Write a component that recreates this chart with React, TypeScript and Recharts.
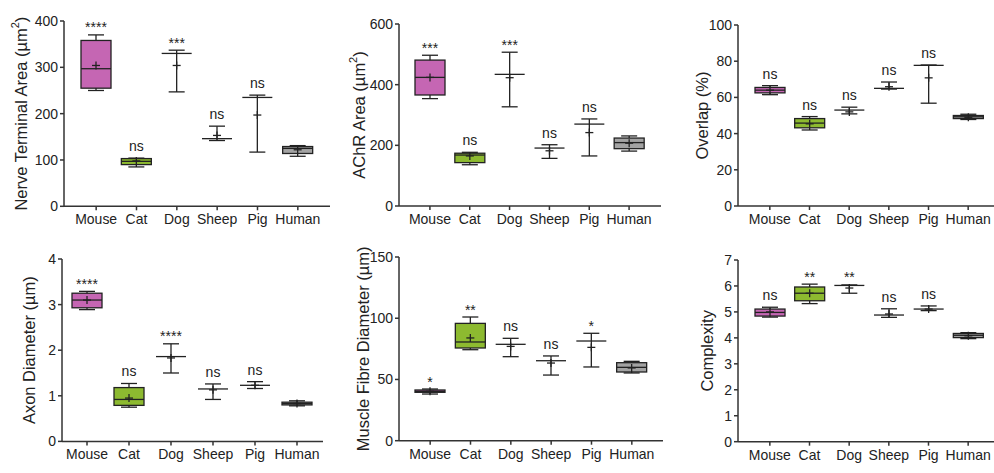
import React from "react";
import { Bar, ComposedChart, XAxis, YAxis } from "recharts";

// species on every panel
const species = ["Mouse", "Cat", "Dog", "Sheep", "Pig", "Human"];

// per species: [min, q1, median, q3, max, mean]
const nerveTerminalArea = [
  [250, 255, 297, 358, 370, 304],
  [85, 90, 97, 103, 104, 98],
  [247, 330, 330, 330, 337, 304],
  [142, 146, 146, 146, 173, 153],
  [117, 235, 235, 235, 240, 197],
  [108, 114, 125, 129, 131, 122],
];
const nerveTerminalSig = ["****", "ns", "***", "ns", "ns", ""];

const achrArea = [
  [354, 366, 424, 481, 497, 424],
  [136, 143, 168, 174, 177, 165],
  [327, 434, 434, 434, 507, 423],
  [157, 191, 191, 191, 202, 182],
  [165, 270, 270, 270, 287, 242],
  [181, 189, 209, 224, 231, 207],
];
const achrSig = ["***", "ns", "***", "ns", "ns", ""];

const overlap = [
  [61.5, 62.5, 64, 65.5, 66.5, 64],
  [42, 43.2, 45.8, 48.3, 49.4, 45.4],
  [50.9, 53, 53, 53, 54.6, 52],
  [64.6, 65, 65, 65, 68.5, 65.9],
  [56.8, 77.7, 77.7, 77.7, 77.9, 70.8],
  [47.8, 48.3, 49.3, 50, 50.7, 49],
];
const overlapSig = ["ns", "ns", "ns", "ns", "ns", ""];

const axonDiameter = [
  [2.89, 2.93, 3.1, 3.25, 3.29, 3.1],
  [0.75, 0.79, 0.92, 1.18, 1.27, 0.95],
  [1.5, 1.86, 1.86, 1.86, 2.14, 1.83],
  [0.92, 1.15, 1.15, 1.15, 1.26, 1.13],
  [1.16, 1.23, 1.23, 1.23, 1.31, 1.23],
  [0.78, 0.8, 0.83, 0.86, 0.89, 0.83],
];
const axonSig = ["****", "ns", "****", "ns", "ns", ""];

const muscleFibreDiameter = [
  [38.1, 39.5, 40.3, 41.4, 42.2, 40.3],
  [74.3, 75.7, 80.6, 95.8, 101, 83.9],
  [68.6, 78.7, 78.7, 78.7, 83.6, 77],
  [53.6, 65.3, 65.3, 65.3, 69.2, 63.4],
  [60.2, 81.4, 81.4, 81.4, 87.7, 76.2],
  [55.3, 56.1, 59.9, 63.7, 64.8, 59.4],
];
const muscleSig = ["*", "**", "ns", "ns", "*", ""];

const complexity = [
  [4.8, 4.84, 4.98, 5.11, 5.18, 5.0],
  [5.32, 5.43, 5.72, 5.96, 6.07, 5.72],
  [5.72, 6.02, 6.02, 6.02, 6.04, 5.92],
  [4.79, 4.88, 4.88, 4.88, 5.12, 4.92],
  [5.05, 5.11, 5.11, 5.11, 5.23, 5.11],
  [3.97, 4.01, 4.1, 4.17, 4.2, 4.08],
];
const complexitySig = ["ns", "**", "**", "ns", "ns", ""];

const boxFill: Record<string, string> = {
  Mouse: "#c566b3",
  Cat: "#8dba30",
  Human: "#a3a3a3",
};

const INK = "#222";
const FONT = '"Liberation Sans", Arial, sans-serif';

type Row = {
  name: string;
  min: number;
  q1: number;
  median: number;
  q3: number;
  max: number;
  mean: number;
  sig: string;
};

const toRows = (stats: number[][], sig: string[]): Row[] =>
  species.map((name, i) => ({
    name,
    min: stats[i][0],
    q1: stats[i][1],
    median: stats[i][2],
    q3: stats[i][3],
    max: stats[i][4],
    mean: stats[i][5],
    sig: sig[i],
  }));

const BoxShape = (props: any) => {
  const { x, y, width, height, payload } = props;
  if (typeof x !== "number" || typeof y !== "number" || !payload) return null;
  const d = payload as Row;
  const top = Math.min(y, y + height);
  const bottom = Math.max(y, y + height);
  // the bar spans min..max through the y scale; place the rest linearly inside it
  const py = (v: number) =>
    bottom - ((v - d.min) / (d.max - d.min)) * (bottom - top);
  const cx = x + width / 2;
  const half = width / 2;
  const cap = 8;
  const fill = boxFill[d.name] ?? "none";
  const isStars = d.sig.startsWith("*");
  return (
    <g>
      <line x1={cx} x2={cx} y1={top} y2={bottom} stroke={INK} strokeWidth={1.3} />
      <line x1={cx - cap} x2={cx + cap} y1={top} y2={top} stroke={INK} strokeWidth={1.3} />
      <line x1={cx - cap} x2={cx + cap} y1={bottom} y2={bottom} stroke={INK} strokeWidth={1.3} />
      <rect
        x={cx - half}
        y={py(d.q3)}
        width={width}
        height={Math.max(0, py(d.q1) - py(d.q3))}
        fill={fill}
        stroke={INK}
        strokeWidth={1.3}
      />
      <line x1={cx - half} x2={cx + half} y1={py(d.median)} y2={py(d.median)} stroke={INK} strokeWidth={1.3} />
      <line x1={cx - 4} x2={cx + 4} y1={py(d.mean)} y2={py(d.mean)} stroke={INK} strokeWidth={1.3} />
      <line x1={cx} x2={cx} y1={py(d.mean) - 4} y2={py(d.mean) + 4} stroke={INK} strokeWidth={1.3} />
      {d.sig && (
        <text
          x={cx}
          y={top - (isStars ? 2.5 : 7)}
          textAnchor="middle"
          fontSize={14}
          fill={INK}
          fontFamily={FONT}
        >
          {d.sig}
        </text>
      )}
    </g>
  );
};

// axis title, with an optional real superscript after the main text
const YTitle = ({ viewBox, text, sup, tail, cx }: any) => {
  if (!viewBox) return null;
  const cy = viewBox.y + viewBox.height / 2;
  return (
    <text
      x={cx}
      y={cy}
      transform={`rotate(-90 ${cx} ${cy})`}
      textAnchor="middle"
      dominantBaseline="central"
      fontSize={16.5}
      fill={INK}
      fontFamily={FONT}
    >
      {text}
      {sup && (
        <tspan fontSize={11} dy={-6}>
          {sup}
        </tspan>
      )}
      {tail && <tspan dy={sup ? 6 : 0}>{tail}</tspan>}
    </text>
  );
};

type PanelProps = {
  rows: Row[];
  title: string;
  sup?: string;
  tail?: string;
  left: number;
  top: number;
  right: number;
  bottom: number;
  titleX: number;
  ticks: number[];
  padLeft: number;
  padRight: number;
};

const AXIS_W = 60;
const XAXIS_H = 40;
const MARGIN_TOP = 12;

const Panel = ({ rows, title, sup, tail, left, top, right, bottom, titleX, ticks, padLeft, padRight }: PanelProps) => {
  const chartLeft = left - AXIS_W;
  const chartTop = top - MARGIN_TOP;
  const width = right - left + AXIS_W + 4;
  const height = bottom - top + MARGIN_TOP + XAXIS_H;
  const axisStyle = { stroke: "#333", strokeWidth: 1.5 };
  return (
    <div style={{ position: "absolute", left: chartLeft, top: chartTop }}>
      <ComposedChart
        width={width}
        height={height}
        data={rows}
        margin={{ top: MARGIN_TOP, right: 4, bottom: 0, left: 0 }}
      >
        <XAxis
          dataKey="name"
          height={XAXIS_H}
          padding={{ left: padLeft, right: padRight }}
          axisLine={axisStyle}
          tickLine={axisStyle}
          tickSize={4}
          tickMargin={4}
          tick={{ fill: INK, fontSize: 14, fontFamily: FONT }}
          interval={0}
        />
        <YAxis
          width={AXIS_W}
          type="number"
          domain={[ticks[0], ticks[ticks.length - 1]]}
          ticks={ticks}
          axisLine={axisStyle}
          tickLine={axisStyle}
          tickSize={4}
          tickMargin={2}
          tick={{ fill: INK, fontSize: 14, fontFamily: FONT }}
          label={<YTitle text={title} sup={sup} tail={tail} cx={titleX - chartLeft} />}
        />
        <Bar
          dataKey={(d: Row) => [d.min, d.max]}
          barSize={30}
          shape={BoxShape}
          activeBar={false}
          isAnimationActive={false}
        />
      </ComposedChart>
    </div>
  );
};

export default function App() {
  return (
    <div
      style={{
        position: "fixed",
        left: 0,
        top: 0,
        width: 994,
        height: 473,
        overflow: "hidden",
        background: "#fff",
        fontFamily: FONT,
      }}
    >
      <Panel
        rows={toRows(nerveTerminalArea, nerveTerminalSig)}
        title="Nerve Terminal Area (µm" sup="2" tail=")"
        left={64} top={20.7} right={330} bottom={206} titleX={21}
        ticks={[0, 100, 200, 300, 400]} padLeft={12} padRight={12}
      />
      <Panel
        rows={toRows(achrArea, achrSig)}
        title="AChR Area (µm" sup="2" tail=")"
        left={399} top={24} right={661} bottom={206} titleX={359}
        ticks={[0, 200, 400, 600]} padLeft={11} padRight={12}
      />
      <Panel
        rows={toRows(overlap, overlapSig)}
        title="Overlap (%)"
        left={738} top={25} right={1000} bottom={206} titleX={702}
        ticks={[0, 20, 40, 60, 80, 100]} padLeft={12} padRight={12}
      />
      <Panel
        rows={toRows(axonDiameter, axonSig)}
        title="Axon Diameter (µm)"
        left={62} top={259.3} right={323} bottom={441.7} titleX={29}
        ticks={[0, 1, 2, 3, 4]} padLeft={4} padRight={5}
      />
      <Panel
        rows={toRows(muscleFibreDiameter, muscleSig)}
        title="Muscle Fibre Diameter (µm)"
        left={399} top={257.3} right={663} bottom={441} titleX={363}
        ticks={[0, 50, 100, 150]} padLeft={11} padRight={11}
      />
      <Panel
        rows={toRows(complexity, complexitySig)}
        title="Complexity"
        left={738} top={260} right={1000} bottom={441.7} titleX={707}
        ticks={[0, 1, 2, 3, 4, 5, 6, 7]} padLeft={12} padRight={12}
      />
    </div>
  );
}
